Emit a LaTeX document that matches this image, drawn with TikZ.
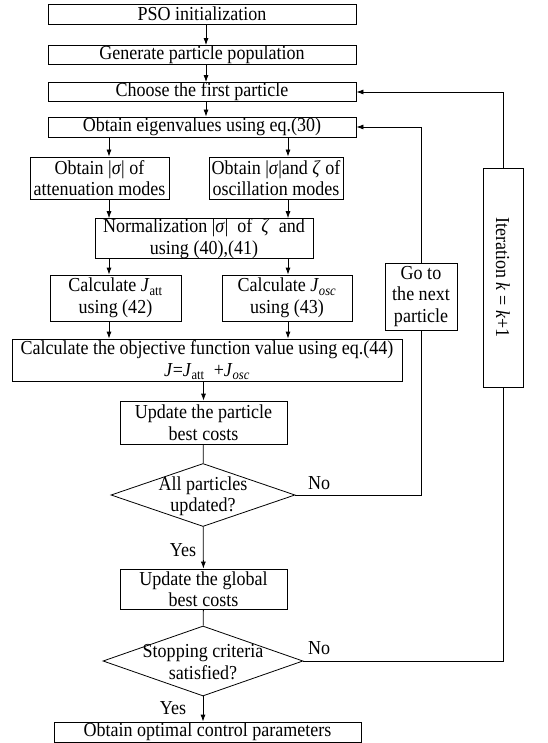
\documentclass[tikz,border=0pt]{standalone}
\usepackage{fontspec}
\setmainfont{Liberation Serif}[FakeStretch=0.91]
\usetikzlibrary{shapes.geometric,arrows.meta}
\begin{document}
\begin{tikzpicture}[x=1pt,y=-1pt,font=\fontsize{19.8}{21.5}\selectfont]
	% sizes of the boxes
	\def\wmain{308}
	\def\hone{19}
	\def\lw{0.8pt}
	% node style definition
	\tikzstyle{box} = [draw, rectangle, line width=\lw, inner sep=0pt, align=center];
	\tikzstyle{dec} = [draw, diamond, line width=\lw, inner sep=0pt];
	\tikzstyle{plain} = [draw=none, fill=none, inner sep=0pt, align=center];
	\tikzstyle{arr} = [line width=\lw, -{Latex[length=7pt,width=5pt]}];
	\tikzstyle{ln} = [line width=\lw];
	\useasboundingbox (0,0) rectangle (547,743);
	% main column
	\node[box, minimum width=\wmain, minimum height=20] (init) at (202,14) {PSO initialization};
	\node[box, minimum width=\wmain, minimum height=\hone] (gen) at (202,55) {Generate particle population};
	\node[box, minimum width=\wmain, minimum height=\hone] (first) at (202,92) {Choose the first particle};
	\node[box, minimum width=\wmain, minimum height=20] (eig) at (202,127) {Obtain eigenvalues using eq.(30)};
	\node[box, minimum width=139, minimum height=42] (att) at (99.5,178) {Obtain |\textit{σ}| of\\attenuation modes};
	\node[box, minimum width=134, minimum height=42] (osc) at (276,178) {Obtain |\textit{σ}|and \textit{ζ} of\\oscillation modes};
	\node[box, minimum width=218, minimum height=39] (norm) at (204,238.5) {Normalization |\textit{σ}| \ of \ \textit{ζ} \ and\\using (40),(41)};
	\node[box, minimum width=131, minimum height=46] (jatt) at (115.5,298) {Calculate \textit{J}\textsubscript{att}\\using (42)};
	\node[box, minimum width=130, minimum height=46] (josc) at (287,298) {Calculate \textit{J}\textsubscript{\textit{osc}}\\using (43)};
	\node[box, minimum width=390, minimum height=42] (obj) at (207,360) {Calculate the objective function value using eq.(44)\\\textit{J}=\textit{J}\textsubscript{att} \ +\textit{J}\textsubscript{\textit{osc}}};
	\node[box, minimum width=167, minimum height=43] (upp) at (203.5,422.5) {Update the particle\\best costs};
	\node[dec, minimum width=184, minimum height=63] (dec1) at (203,495) {};
	\node[plain] (dec1txt) at (203,496) {All particles\\updated?};
	\node[box, minimum width=167, minimum height=40] (upg) at (203.5,589) {Update the global\\best costs};
	\node[dec, minimum width=200, minimum height=70] (dec2) at (203,661) {};
	\node[plain] (dec2txt) at (203,662) {Stopping criteria\\satisfied?};
	\node[box, minimum width=307, minimum height=20] (final) at (207.5,732) {Obtain optimal control parameters};
	% loop boxes
	\node[box, minimum width=72, minimum height=67] (next) at (421,296.5) {Go to\\the next\\particle};
	\node[box, rotate=-90, minimum width=219, minimum height=40] (iter) at (503,277.5) {Iteration \textit{k} = \textit{k}+1};
	% labels
	\node[plain, anchor=west] (no1) at (308,483) {No};
	\node[plain, anchor=west] (no2) at (308,648) {No};
	\node[plain] (yes1) at (183,550) {Yes};
	\node[plain] (yes2) at (173,708) {Yes};
	% column positions of the arrows
	\coordinate (mc) at (206,0);
	\coordinate (lc) at (109,0);
	\coordinate (rc) at (288,0);
	% connectors
	\draw[arr] (init.south -| mc) -- (gen.north -| mc);
	\draw[arr] (gen.south -| mc) -- (first.north -| mc);
	\draw[arr] (first.south -| mc) -- (eig.north -| mc);
	\draw[arr] (eig.south -| lc) -- (att.north -| lc);
	\draw[arr] (eig.south -| rc) -- (osc.north -| rc);
	\draw[arr] (att.south -| lc) -- (norm.north -| lc);
	\draw[arr] (osc.south -| rc) -- (norm.north -| rc);
	\draw[arr] (norm.south -| lc) -- (jatt.north -| lc);
	\draw[arr] (norm.south -| rc) -- (josc.north -| rc);
	\draw[arr] (jatt.south -| lc) -- (obj.north -| lc);
	\draw[arr] (josc.south -| rc) -- (obj.north -| rc);
	\draw[arr] (obj.south -| upp) -- (upp);
	\draw[ln] (upp) -- (dec1);
	\draw[arr] (dec1) -- (upg);
	\draw[ln] (upg) -- (dec2);
	\draw[arr] (dec2.south) -- (final.north -| dec2.south);
	\draw[ln] (dec1.east) -| (next);
	\draw[arr] (next) |- (eig);
	\draw[ln] (dec2.east) -| (iter);
	\draw[arr] (iter) |- (first);
\end{tikzpicture}
\end{document}
